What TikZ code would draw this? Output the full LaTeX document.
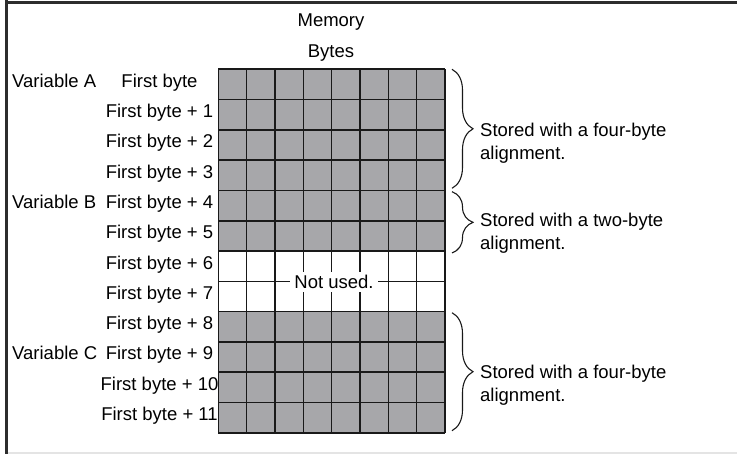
\documentclass[tikz,border=0pt]{standalone}
\usepackage{fontspec}
\setmainfont{Liberation Sans}
\usetikzlibrary{decorations.pathreplacing}
\definecolor{cellgray}{RGB}{167,167,170}
\definecolor{gridline}{RGB}{25,25,25}
\definecolor{framedark}{RGB}{45,45,45}
\definecolor{framelight}{RGB}{228,228,228}
\tikzset{
  txt/.style={inner sep=0pt, font=\fontsize{18.5}{23}\selectfont},
  gridln/.style={draw=gridline, line width=1.6pt},
  bracestyle/.style={draw=gridline, line width=1.1pt, decorate,
     decoration={brace, amplitude=21pt}},
}
\begin{document}
\begin{tikzpicture}[x=1pt,y=-1pt]
\useasboundingbox (0,0) rectangle (737,454);
\fill[white] (0,0) rectangle (737,454);
% frame
\fill[framedark] (5,0.8) rectangle (737,3.6);
\fill[framedark] (5,0) rectangle (7.6,454);
\fill[framelight] (7.6,452) rectangle (737,454);
% cells
\fill[cellgray] (218.3,69.3) rectangle (445,251.1);
\fill[cellgray] (218.3,311.7) rectangle (445,432.9);
\foreach \i in {0,...,8} \draw[gridln] ({218.3+\i*28.34},69.3) -- ({218.3+\i*28.34},432.9);
\foreach \j in {0,...,12} \draw[gridln] (218.3,{69.3+\j*30.3}) -- (445,{69.3+\j*30.3});
% Not used label
\node[txt, fill=white, minimum width=88pt, minimum height=20pt] (notused) at (334,281.6) {Not used.};
% headings
\node[txt, anchor=base] (memory) at (331,27) {Memory};
\node[txt, anchor=base] (bytes) at (331,58) {Bytes};
% row labels
\foreach \k/\t in {0/First byte, 1/First byte + 1, 2/First byte + 2, 3/First byte + 3,
  4/First byte + 4, 5/First byte + 5, 6/First byte + 6, 7/First byte + 7,
  8/First byte + 8, 9/First byte + 9, 10/First byte + 10, 11/First byte + 11}
  \node[txt, anchor=base] (r\k) at (159.5,{69.3+\k*30.3+18}) {\t};
\node[txt, anchor=base west] (varA) at (12,{69.3+0*30.3+18}) {Variable A};
\node[txt, anchor=base west] (varB) at (12,{69.3+4*30.3+18}) {Variable B};
\node[txt, anchor=base west] (varC) at (12,{69.3+9*30.3+18}) {Variable C};
% braces
\coordinate (b1t) at (452,69.3);
\coordinate (b1b) at (452,188.3);
\coordinate (b2t) at (452,191.7);
\coordinate (b2b) at (452,253);
\coordinate (b3t) at (452,312.7);
\coordinate (b3b) at (452,430.7);
\draw[bracestyle] (b1t) -- (b1b);
\draw[bracestyle] (b2t) -- (b2b);
\draw[bracestyle] (b3t) -- (b3b);
\node[txt, anchor=base west, align=left] (s1) at (480,160) {Stored with a four-byte\\alignment.};
\node[txt, anchor=base west, align=left] (s2) at (480,250) {Stored with a two-byte\\alignment.};
\node[txt, anchor=base west, align=left] (s3) at (480,402) {Stored with a four-byte\\alignment.};
\end{tikzpicture}
\end{document}
